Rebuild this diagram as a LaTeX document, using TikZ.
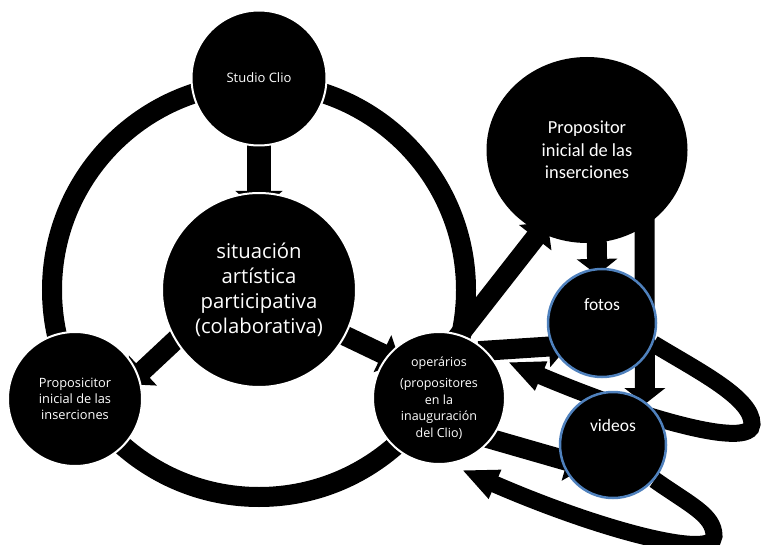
\documentclass[tikz,border=0pt]{standalone}
\usepackage{fontspec}
\newfontfamily\osans{Open Sans}
\newfontfamily\carl{Carlito}
\usetikzlibrary{arrows.meta,backgrounds,shapes.geometric}
\definecolor{rimblue}{RGB}{79,129,189}
\begin{document}
\begin{tikzpicture}[x=1pt,y=-1pt,
  disc/.style={circle,fill=black,draw=white,line width=2pt,inner sep=0pt,
    text=white,align=center},
  mediadisc/.style={circle,fill=black,draw=rimblue,line width=2.5pt,inner sep=0pt},
  mediatext/.style={text=white,inner sep=0pt,font=\carl\fontsize{17.5}{21}\selectfont},
  ring/.style={line width=20pt},
  flow/.style={line width=20pt,-{Triangle[width=40pt,length=20pt]}},
  dropflow/.style={line width=20pt,-{Triangle[width=40pt,length=16pt]}},
  loopflow/.style={line width=17pt,-{Triangle[width=29pt,length=36pt]}},
]
\useasboundingbox (0,0) rectangle (762,545);

% circles
\node[disc,minimum size=135pt,font=\osans\fontsize{13}{15}\selectfont]
  (clio) at (259,78) {Studio Clio};
\node[disc,minimum size=194pt,font=\osans\fontsize{20.3}{25}\selectfont]
  (central) at (259,290) {situación\\artística\\participativa\\(colaborativa)};
\node[disc,minimum size=134pt,font=\osans\fontsize{12.8}{16}\selectfont]
  (left) at (75,399) {Proposicitor\\inicial de las\\inserciones};
\node[disc,minimum size=132pt,font=\osans\fontsize{12.5}{16.5}\selectfont]
  (oper) at (439,398) {operários\\[5pt](propositores\\en la\\inauguración\\del Clio)};
\node[ellipse,fill=black,inner sep=0pt,minimum width=201pt,minimum height=186pt,
  text=white,align=center,font=\carl\fontsize{18.4}{22.4}\selectfont]
  (big) at (587,150) {Propositor\\inicial de las\\inserciones};
\node[mediadisc,minimum size=108pt,label={[mediatext,yshift=18pt]center:fotos}]
  (fotos) at (602,323) {};
\node[mediadisc,minimum size=106pt,label={[mediatext,yshift=20pt]center:videos}]
  (videos) at (613,445) {};

% free ends of the two return loops
\coordinate (loopAend) at (508,362);
\coordinate (loopBend) at (462,470);

\begin{scope}[on background layer]
  \fill[white] (-5,-5) rectangle (767,550);
  % cycle ring
  \draw[ring] (central.center) circle[radius=207];
  % straight connectors
  \draw[line width=24pt,-{Triangle[width=46pt,length=20pt]},
    shorten <=-6pt,shorten >=-19pt] (clio.south) -- (central.north);
  \draw[flow,shorten <=-8pt,shorten >=-14pt] (central.211) -- (left.21);
  \draw[flow,shorten <=-8pt,shorten >=-15pt] (central.332) -- (oper.141);
  \draw[flow,shorten <=-8pt,shorten >=-13pt] (oper.72) -- (big.240);
  \draw[flow,shorten <=-8pt,shorten >=-17pt] (oper.45) -- (fotos.205);
  \draw[flow,shorten <=-8pt,shorten >=-27pt] (oper.322) -- (videos.195);
  \draw[dropflow,shorten <=-10pt,shorten >=-7pt] (big.276) -- (fotos.95);
  \draw[dropflow,shorten <=-14pt,shorten >=-3pt] (big.307) -- (videos.54);
  % return loops
  \draw[loopflow] (fotos.338) .. controls (700,372) and (752,398) .. (752,424)
    .. controls (752,450) and (640,418) .. (loopAend);
  \draw[loopflow] (videos.320) .. controls (690,505) and (714,515) .. (714,536)
    .. controls (714,560) and (600,530) .. (loopBend);
\end{scope}
\end{tikzpicture}
\end{document}
